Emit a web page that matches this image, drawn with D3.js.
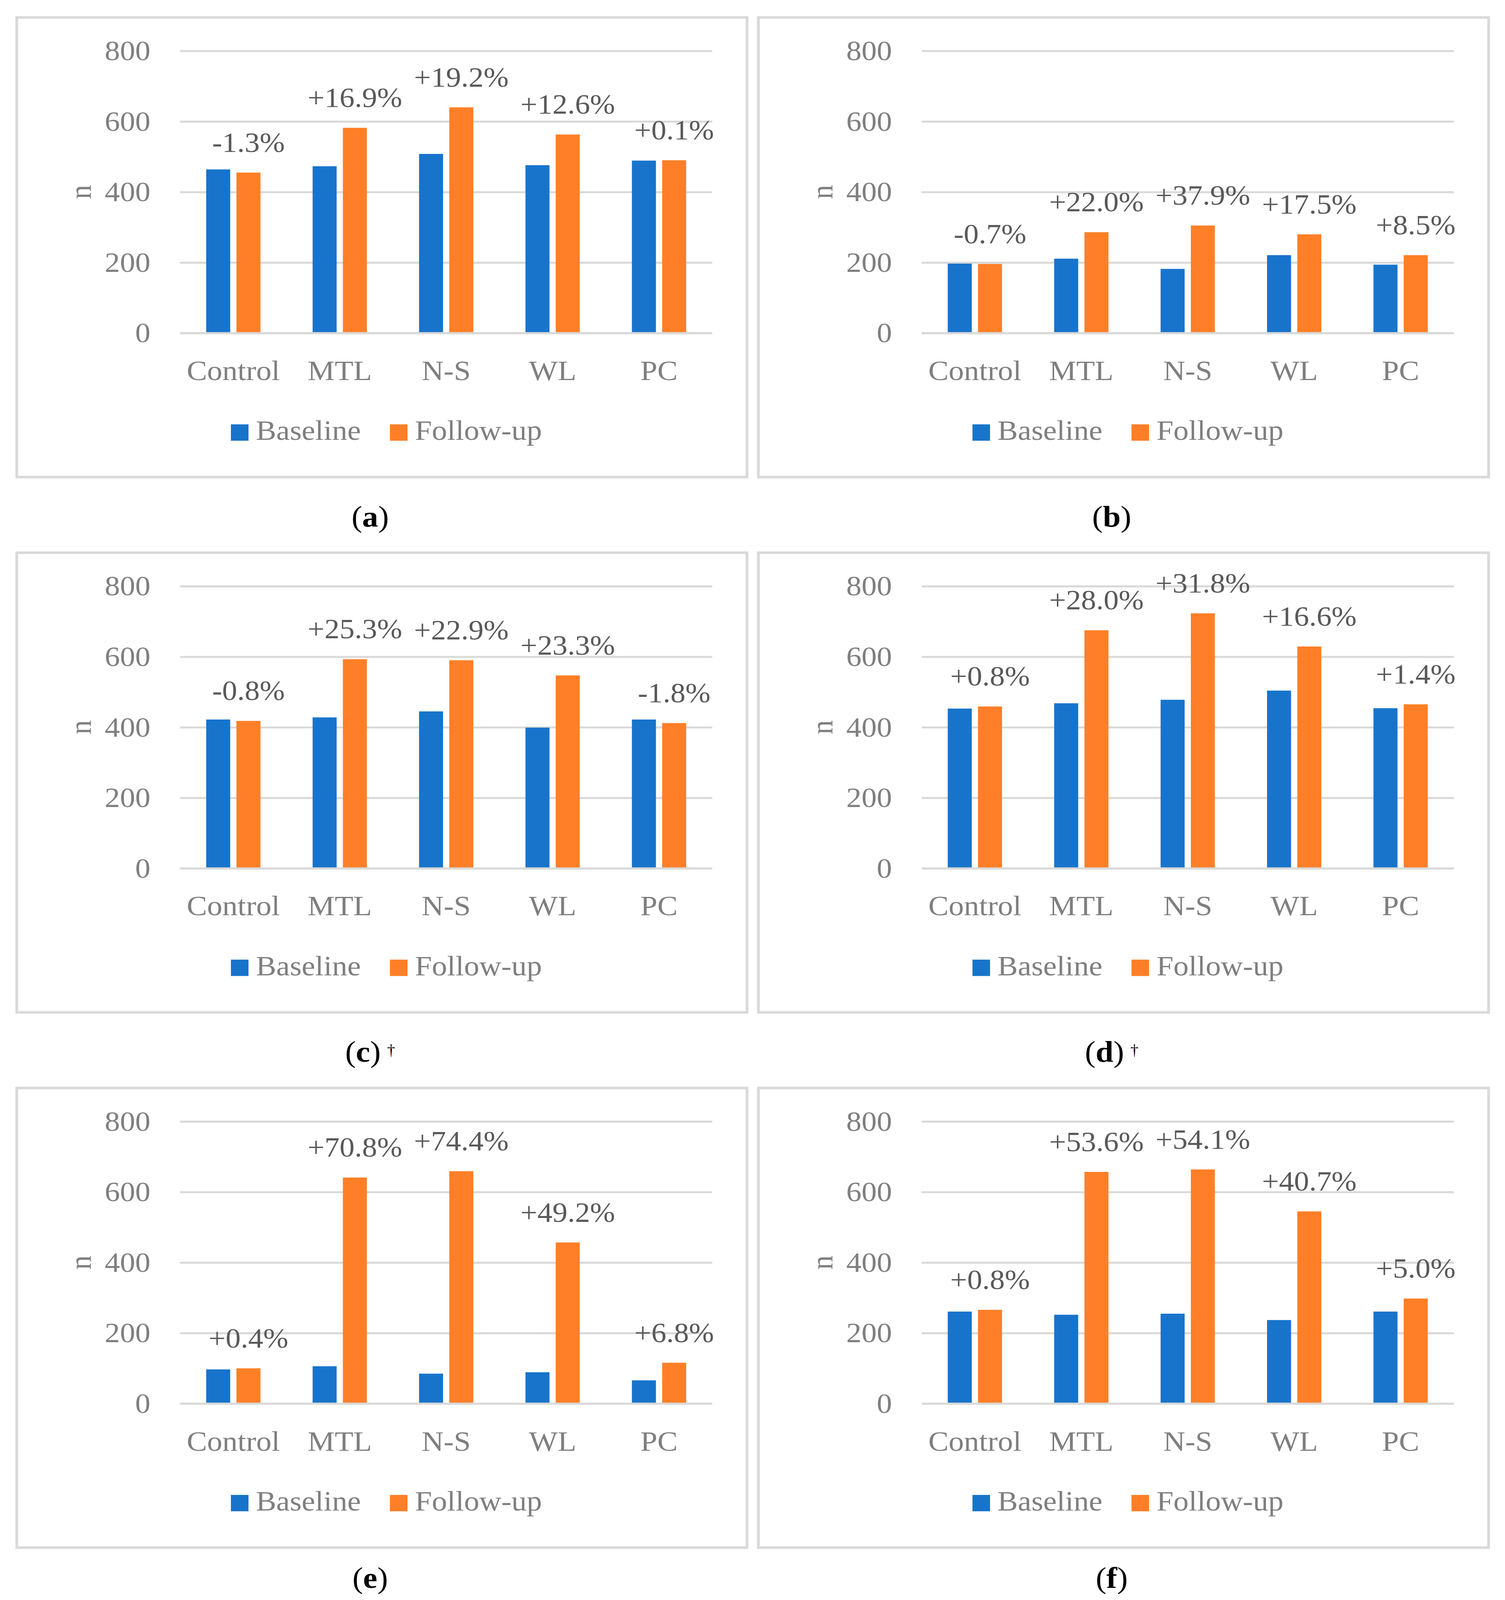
<!DOCTYPE html>
<html>
<head>
<meta charset="utf-8">
<script src="https://d3js.org/d3.v7.min.js"></script>
<style>
    html, body { margin: 0; padding: 0; background: #ffffff; overflow: hidden; }
    svg { display: block; }
    text { font-family: "Liberation Serif", "DejaVu Serif", serif; }
</style>
</head>
<body>
<svg id="chart" width="3852" height="4400"></svg>
<script>
// Categories, series and ticks shared by all six panels
const categories = ["Control", "MTL", "N-S", "WL", "PC"];
const seriesNames = ["Baseline", "Follow-up"];
const yTicks = [0, 200, 400, 600, 800];

// Panel (a)
const baselineA = [464, 473, 508, 476, 489];
const followUpA = [455, 582, 640, 563, 490];
const changeA = ["-1.3%", "+16.9%", "+19.2%", "+12.6%", "+0.1%"];
// Panel (b)
const baselineB = [197, 211, 182, 221, 194];
const followUpB = [196, 286, 305, 280, 221];
const changeB = ["-0.7%", "+22.0%", "+37.9%", "+17.5%", "+8.5%"];
// Panel (c)
const baselineC = [422, 428, 445, 399, 422];
const followUpC = [418, 593, 590, 547, 412];
const changeC = ["-0.8%", "+25.3%", "+22.9%", "+23.3%", "-1.8%"];
// Panel (d)
const baselineD = [453, 468, 478, 504, 454];
const followUpD = [459, 675, 723, 629, 465];
const changeD = ["+0.8%", "+28.0%", "+31.8%", "+16.6%", "+1.4%"];
// Panel (e)
const baselineE = [97, 106, 85, 89, 66];
const followUpE = [100, 641, 659, 457, 116];
const changeE = ["+0.4%", "+70.8%", "+74.4%", "+49.2%", "+6.8%"];
// Panel (f)
const baselineF = [261, 252, 255, 237, 261];
const followUpF = [266, 657, 664, 545, 298];
const changeF = ["+0.8%", "+53.6%", "+54.1%", "+40.7%", "+5.0%"];

const panelLetters = ["a", "b", "c", "d", "e", "f"];
const panelDagger = [false, false, true, true, false, false];

const panels = [
    { base: baselineA, follow: followUpA, change: changeA },
    { base: baselineB, follow: followUpB, change: changeB },
    { base: baselineC, follow: followUpC, change: changeC },
    { base: baselineD, follow: followUpD, change: changeD },
    { base: baselineE, follow: followUpE, change: changeE },
    { base: baselineF, follow: followUpF, change: changeF }
];

const colors = { "Baseline": "#1874cb", "Follow-up": "#fe7f27" };

// Panel geometry (in reference pixels)
const W = 3852, H = 4400;
const panelW = 1869, panelH = 1264;
const colX = [43, 1941];
const rowY = [48, 1520, 2992];
const captionY = [1400, 1400, 1375];
const plot = { left: 418, right: 1780, top: 92, bottom: 868 };

// The window may be shorter than the figure, so map the whole figure onto the viewport
const vw = window.innerWidth || W, vh = window.innerHeight || H;
const svg = d3.select("#chart")
    .attr("viewBox", `0 0 ${W} ${H}`)
    .attr("preserveAspectRatio", "none")
    .attr("width", vw)
    .attr("height", vh);
svg.append("rect").attr("width", W).attr("height", H).attr("fill", "#ffffff");

function drawPanel(g, d, letter, dagger, capY) {
    // Frame
    g.append("rect")
        .attr("x", 0).attr("y", 0)
        .attr("width", panelW).attr("height", panelH)
        .attr("fill", "none")
        .attr("stroke", "#d9d9d9")
        .attr("stroke-width", 7);

    // Scales
    let x0 = d3.scaleBand().domain(categories).range([plot.left, plot.right]);
    let bw = x0.bandwidth();
    let x1 = d3.scaleBand().domain(seriesNames).range([0.245 * bw, 0.755 * bw]).paddingInner(0.206);
    let y = d3.scaleLinear().domain([0, 800]).range([plot.bottom, plot.top]);

    // Gridlines + y tick labels
    let yAxis = d3.axisLeft(y).tickValues(yTicks).tickSize(-(plot.right - plot.left)).tickPadding(76);
    let ya = g.append("g").attr("transform", `translate(${plot.left},0)`).call(yAxis);
    ya.select(".domain").remove();
    ya.selectAll("line").attr("stroke", "#d9d9d9").attr("stroke-width", 5.5);
    ya.selectAll("text")
        .attr("font-size", 78)
        .attr("fill", "#7f7f7f")
        .style("font-family", "'Liberation Serif', serif");

    // Bars
    let rows = categories.map((c, i) => ({ cat: c, values: [d.base[i], d.follow[i]], change: d.change[i] }));
    let groups = g.selectAll(".cat").data(rows).enter().append("g")
        .attr("class", "cat")
        .attr("transform", (r) => `translate(${x0(r.cat)},0)`);
    groups.selectAll("rect")
        .data((r) => r.values.map((v, j) => ({ key: seriesNames[j], value: v })))
        .enter().append("rect")
        .attr("x", (b) => x1(b.key))
        .attr("width", x1.bandwidth())
        .attr("y", (b) => y(b.value))
        .attr("height", (b) => y(0) - y(b.value))
        .attr("fill", (b) => colors[b.key]);

    // Horizontal axis line on top of bars
    g.append("line")
        .attr("x1", plot.left).attr("x2", plot.right)
        .attr("y1", y(0)).attr("y2", y(0))
        .attr("stroke", "#d9d9d9").attr("stroke-width", 5.5);

    // Percentage change labels over the follow-up bar
    groups.append("text")
        .attr("x", x1("Follow-up") + x1.bandwidth() / 2)
        .attr("y", (r) => y(r.values[1]) - 57)
        .attr("text-anchor", "middle")
        .attr("font-size", 77)
        .attr("fill", "#595959")
        .text((r) => r.change);

    // Category axis
    let xAxis = d3.axisBottom(x0).tickSize(0).tickPadding(74);
    let xa = g.append("g").attr("transform", `translate(0,${plot.bottom})`).call(xAxis);
    xa.select(".domain").remove();
    xa.selectAll("text")
        .attr("font-size", 78)
        .attr("fill", "#7f7f7f")
        .style("font-family", "'Liberation Serif', serif");

    // Axis title
    g.append("text")
        .attr("transform", `translate(190,${(plot.top + plot.bottom) / 2}) rotate(-90)`)
        .attr("text-anchor", "middle")
        .attr("font-size", 78)
        .attr("fill", "#7f7f7f")
        .text("n");

    // Legend
    let legendX = [548, 955];
    let legend = g.selectAll(".legend").data(seriesNames).enter().append("g")
        .attr("class", "legend")
        .attr("transform", (s, i) => `translate(${legendX[i]},1119)`);
    legend.append("rect")
        .attr("width", 45).attr("height", 45)
        .attr("fill", (s) => colors[s]);
    legend.append("text")
        .attr("x", 64).attr("y", 43)
        .attr("font-size", 78)
        .attr("fill", "#7f7f7f")
        .text((s) => s);

    // Sub caption below the frame
    let cap = g.append("text")
        .attr("x", panelW / 2 - 30)
        .attr("y", capY)
        .attr("text-anchor", "middle")
        .attr("font-size", 82)
        .attr("fill", "#000000");
    cap.append("tspan").text("(");
    cap.append("tspan").attr("font-weight", "bold").text(letter);
    cap.append("tspan").text(")");
    if (dagger) {
        cap.append("tspan").attr("dx", 16).attr("dy", -18).attr("font-size", 42).text("\u2020");
    }
}

panels.forEach((d, i) => {
    let row = Math.floor(i / 2);
    let g = svg.append("g")
        .attr("transform", `translate(${colX[i % 2]},${rowY[row]})`);
    drawPanel(g, d, panelLetters[i], panelDagger[i], captionY[row]);
});
</script>
</body>
</html>
